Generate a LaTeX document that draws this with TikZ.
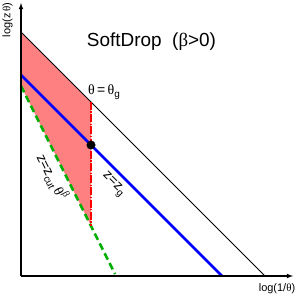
\documentclass[tikz,border=0pt]{standalone}
\usepackage{fontspec}
\setmainfont{Liberation Sans}
\newfontfamily\symfont{Liberation Serif}
\usepackage{xcolor}
\usepackage{tikz}
\usetikzlibrary{arrows}
\usetikzlibrary{backgrounds}
\pgfdeclarelayer{edgelayer}
\pgfdeclarelayer{nodelayer}
\pgfsetlayers{background,edgelayer,nodelayer,main}
\definecolor{sdgreen}{RGB}{0,175,0}
\definecolor{sdfill}{RGB}{255,128,128}
\newcommand{\gk}[1]{{\symfont #1}}
\newcommand{\lsub}[1]{\raisebox{-0.45ex}{\fontsize{10}{12}\selectfont #1}}
\newcommand{\lsup}[1]{\raisebox{0.9ex}{\fontsize{10}{12}\selectfont #1}}
\tikzstyle{none}=[inner sep=0mm]
\tikzstyle{axis}=[draw=black,line width=1.1bp,-latex]
\tikzstyle{kinline}=[draw=black,line width=0.8bp]
\tikzstyle{zgline}=[draw=blue,line width=2.6bp]
\tikzstyle{cutline}=[draw=sdgreen,line width=2.6bp,dash pattern=on 7bp off 4bp]
\tikzstyle{thetaline}=[draw=red,line width=2.4bp,dash pattern=on 8bp off 1.5bp on 1.2bp off 1.5bp]
\tikzstyle{black dot}=[inner sep=0pt,minimum size=8.5bp,fill=black,draw=black,shape=circle]
\tikzstyle{lbl}=[inner sep=0pt,font=\fontsize{14}{16}\selectfont]

\begin{document}
\begin{tikzpicture}[x=1bp,y=1bp]
	\useasboundingbox (0,0) rectangle (301,298);
	\coordinate (o) at (21, 22);
	\coordinate (ytop) at (21, 295);
	\coordinate (xend) at (293, 22);
	\coordinate (k1) at (21, 266);
	\coordinate (k2) at (265, 22);
	\coordinate (b1) at (21, 223);
	\coordinate (b2) at (222, 22);
	\coordinate (g1) at (21, 212);
	\coordinate (g2) at (115, 24);
	\coordinate (r1) at (91, 196);
	\coordinate (r2) at (91, 72);
	\begin{pgfonlayer}{nodelayer}
		\node [style=black dot] (gdot) at (91, 153) {};
		\node [style=none,font=\fontsize{19}{22}\selectfont] (title) at (151.5, 256) {SoftDrop\ \ (\gk{β}>0)};
		\node [style=lbl,anchor=west] (thg) at (88, 206) {\gk{θ}\,=\,\gk{θ}\lsub{g}};
		\node [style=lbl,rotate=-45] (zg) at (113, 113) {z=z\lsub{g}};
		\node [style=lbl,rotate=-63.4] (zcut) at (52, 121) {z=z\lsub{cut}\,\gk{θ}\lsup{\gk{β}}};
		\node [style=none,font=\fontsize{11}{12}\selectfont,rotate=90] (ylab) at (7.5, 278) {log(z\,\gk{θ})};
		\node [style=none,font=\fontsize{11}{12}\selectfont] (xlab) at (277, 9) {log(1/\gk{θ})};
	\end{pgfonlayer}
	\begin{pgfonlayer}{background}
		\fill [sdfill] (k1) -- (r1) -- (r2) -- (g1) -- cycle;
	\end{pgfonlayer}
	\begin{pgfonlayer}{edgelayer}
		\draw [style=kinline] (k1) to (k2);
		\draw [style=cutline] (g1) to (g2);
		\draw [style=zgline] (b1) to (b2);
		\draw [style=thetaline] (r1) to (r2);
		\draw [style=axis] (o) to (ytop);
		\draw [style=axis] (o) to (xend);
	\end{pgfonlayer}
\end{tikzpicture}
\end{document}
